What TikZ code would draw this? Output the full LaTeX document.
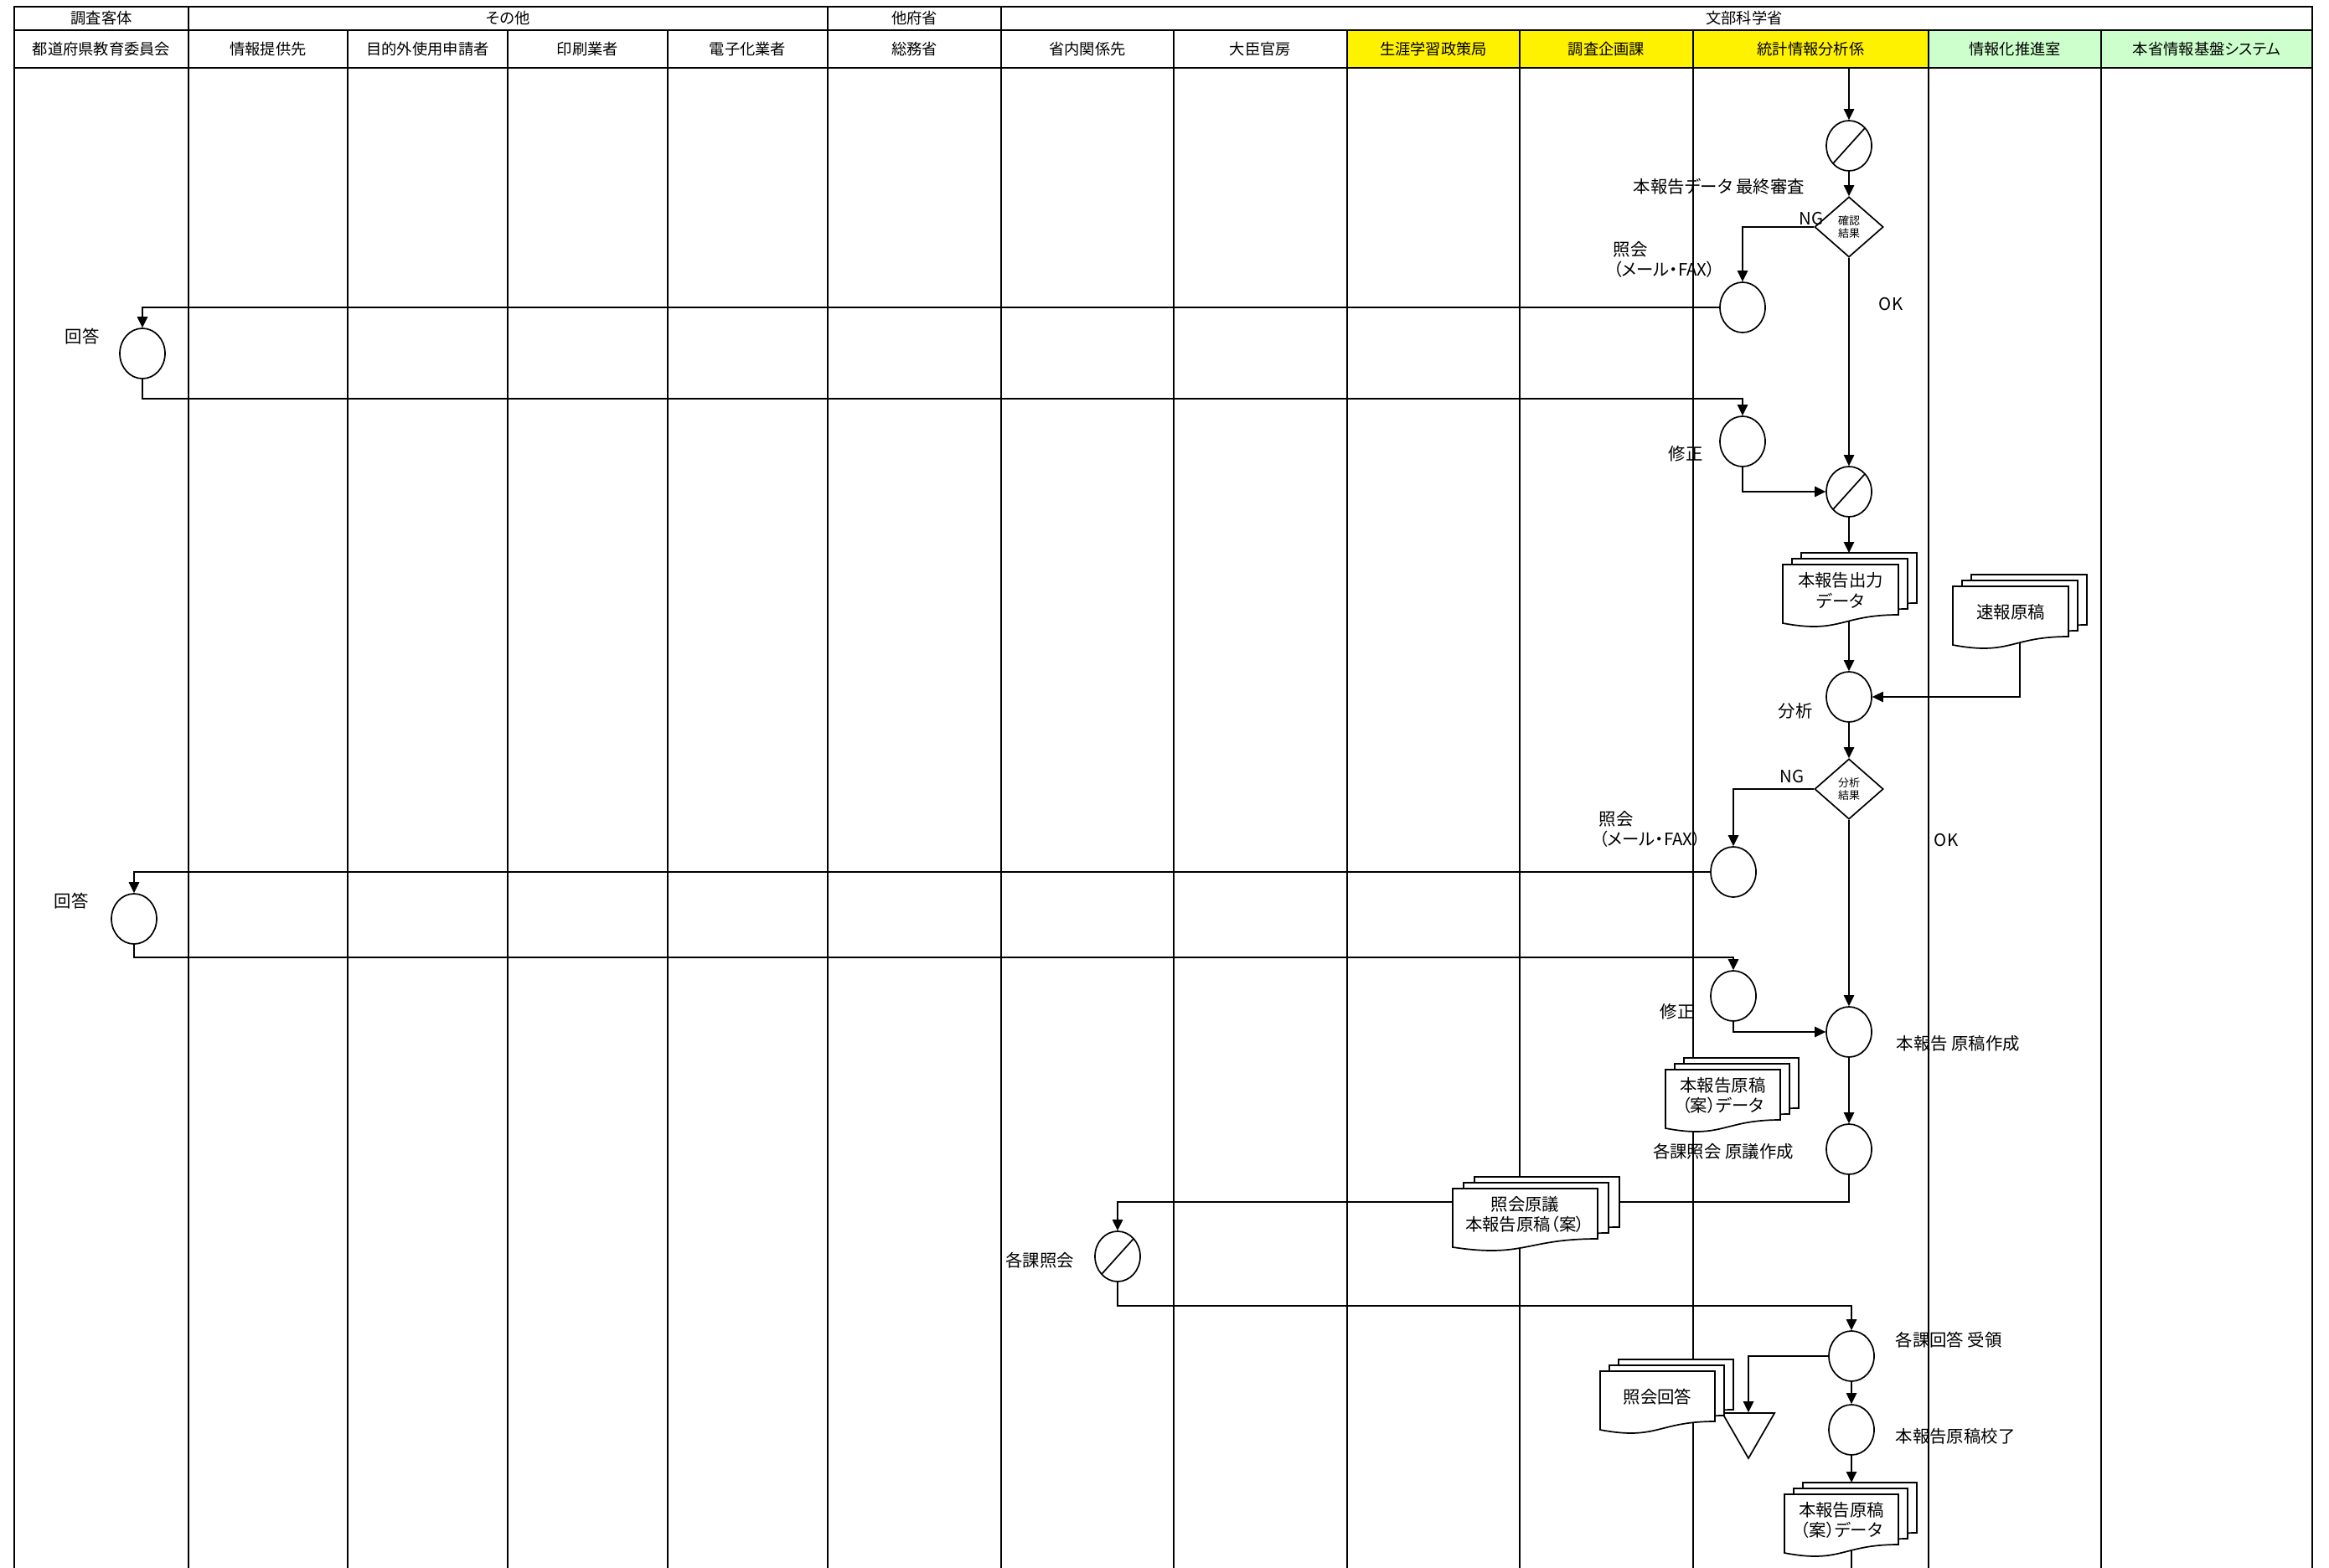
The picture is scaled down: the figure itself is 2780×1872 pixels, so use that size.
\documentclass[tikz,border=0pt]{standalone}
\usepackage{fontspec}
\setmainfont{Noto Sans CJK JP}[RawFeature=+palt]
\usetikzlibrary{arrows.meta, shapes.geometric, backgrounds}

\newcommand\hdrfont{\fontsize{5.2}{6.2}\selectfont}
\newcommand\lblfont{\fontsize{5.8}{6.9}\selectfont}
\newcommand\decfont{\fontsize{3.7}{4.4}\selectfont}

% document symbol, three sheets: name, front x, front y, width, shift, text
\newcommand\docstack[6]{%
  \foreach \k in {2,1,0}{
    \draw[docsheet] ({#2+\k*#5},{#3-\k*7}) -- ++(#4,0) -- ++(0,60)
      .. controls ({#2+\k*#5+0.5*#4},{#3-\k*7+60}) and ({#2+\k*#5+0.5*#4},{#3-\k*7+83})
      .. ({#2+\k*#5},{#3-\k*7+70}) -- cycle;
  }
  \node[doctext] (#1) at ({#2+0.5*#4},{#3+31}) {#6};
  \coordinate (#1-top) at ({#2+0.5*#4},{#3-14});
}

\begin{document}
\begin{tikzpicture}[
  x=0.1mm, y=-0.1mm,
  hcell/.style={draw, line width=0.25mm, inner sep=0pt, font=\hdrfont},
  lane/.style={line width=0.25mm},
  proc/.style={ellipse, draw, line width=0.17mm, fill=white,
               minimum width=5.4mm, minimum height=6mm, inner sep=0pt},
  slashed/.style={proc, path picture={\draw[line width=0.17mm]
               (path picture bounding box.south west) -- (path picture bounding box.north east);}},
  dec/.style={diamond, draw, line width=0.17mm, fill=white, align=center,
              minimum width=8.2mm, minimum height=7.2mm, inner sep=0pt, font=\decfont},
  merge/.style={regular polygon, regular polygon sides=3, shape border rotate=180,
                draw, line width=0.17mm, fill=white, minimum size=7.2mm, inner sep=0pt},
  docsheet/.style={draw, line width=0.17mm, fill=white},
  doctext/.style={align=center, inner sep=0pt, font=\lblfont},
  note/.style={inner sep=0pt, font=\lblfont},
  flow/.style={line width=0.13mm, -{Triangle[length=1.3mm, width=1.25mm]}},
  link/.style={line width=0.13mm},
]
\useasboundingbox (0,0) rectangle (2780,1872);

% ------------------- swim lanes -------------------
\foreach \x in {17,225,415,606,797,988,1195,1401,1608,1814,2021,2302,2508,2760}
  \draw[lane] (\x,81) -- (\x,1872);

% ------------------- header -------------------
\node[hcell, minimum width=20.8mm, minimum height=2.8mm] (grp1) at (121,22) {調査客体};
\node[hcell, minimum width=76.3mm, minimum height=2.8mm] (grp2) at (606.5,22) {その他};
\node[hcell, minimum width=20.7mm, minimum height=2.8mm] (grp3) at (1091.5,22) {他府省};
\node[hcell, minimum width=156.5mm, minimum height=2.8mm] (grp4) at (1977.5,22) {};
\node[font=\hdrfont, inner sep=0pt] (grp4t) at (2082,22) {文部科学省};

\foreach \xl/\xr/\txt/\col [count=\i] in {
    17/225/都道府県教育委員会/white, 225/415/情報提供先/white,
    415/606/目的外使用申請者/white, 606/797/印刷業者/white,
    797/988/電子化業者/white, 988/1195/総務省/white,
    1195/1401/省内関係先/white, 1401/1608/大臣官房/white,
    1608/1814/生涯学習政策局/yellow, 1814/2021/調査企画課/yellow,
    2021/2302/統計情報分析係/yellow, 2302/2508/情報化推進室/green!20,
    2508/2760/本省情報基盤システム/green!20}
  \node[hcell, fill=\col, minimum width={(\xr-\xl)*0.1mm}, minimum height=4.5mm]
    (col\i) at ({(\xl+\xr)/2},58.5) {\txt};

% ------------------- final check -------------------
\node[slashed] (s1) at (2207,174) {};
\node[dec] (d1) at (2207,271) {確認\\結果};
\node[proc] (c1) at (2080,367) {};
\node[proc] (r1) at (170,422) {};
\node[proc] (m1) at (2080,527) {};
\node[slashed] (s2) at (2207,587) {};

\node[note] (lb1) at (2052,223) {本報告データ 最終審査};
\node[note] (ng1) at (2162,261) {NG};
\node[note, align=left, anchor=west] (lq1) at (1925,310) {照会\\（メール・FAX）};
\node[note] (ok1) at (2257,363) {OK};
\node[note] (la1) at (98,402) {回答};
\node[note] (lm1) at (2012,542) {修正};

% ------------------- analysis -------------------
\node[proc] (a1) at (2207,832) {};
\node[dec] (d2) at (2207,942) {分析\\結果};
\node[proc] (c2) at (2069,1041) {};
\node[proc] (r2) at (160,1097) {};
\node[proc] (m2) at (2069,1189) {};
\node[proc] (b1) at (2207,1232) {};

\node[note] (lb2) at (2143,849) {分析};
\node[note] (ng2) at (2139,927) {NG};
\node[note, align=left, anchor=west] (lq2) at (1908,990) {照会\\（メール・FAX）};
\node[note] (ok2) at (2323,1003) {OK};
\node[note] (la2) at (85,1076) {回答};
\node[note] (lm2) at (2002,1208) {修正};
\node[note, anchor=west] (lb3) at (2263,1246) {本報告 原稿作成};

% ------------------- inquiry to divisions -------------------
\node[proc] (c3) at (2207,1372) {};
\node[slashed] (s3) at (1334,1500) {};
\node[proc] (c4) at (2210,1619) {};
\node[proc] (c5) at (2210,1707) {};
\node[merge] (t1) at (2087,1705) {};

\node[note] (lb4) at (2057,1375) {各課照会 原議作成};
\node[note] (lb5) at (1241,1505) {各課照会};
\node[note, anchor=west] (lb6) at (2262,1600) {各課回答 受領};
\node[note, anchor=west] (lb7) at (2262,1715) {本報告原稿校了};

% ------------------- documents -------------------
\docstack{doc1}{2128}{674}{138}{11}{本報告出力\\データ}
\docstack{doc2}{2331}{700}{138}{11}{速報原稿}
\docstack{doc3}{1988}{1277}{137}{11}{本報告原稿\\（案）データ}
\docstack{doc4}{1734}{1419}{173}{13}{照会原議\\本報告原稿（案）}
\docstack{doc5}{1910}{1637}{137}{11}{照会回答}
\docstack{doc6}{2130}{1784}{136}{11}{本報告原稿\\（案）データ}

\coordinate (entry) at (2207,81);
\coordinate (exit) at (2210,1872);

% connectors go behind the sheets
\begin{scope}[on background layer]
  \draw[flow] (entry) -- (s1);
  \draw[flow] (s1) -- (d1);
  \draw[flow] (d1.west) -| (c1);
  \draw[flow] (c1) -| (r1);
  \draw[flow] (r1.south) -- ++(0,23) -| (m1);
  \draw[flow] (m1.south) |- (s2);
  \draw[flow] (d1) -- (s2);
  \draw[flow] (s2) -- (s2 |- doc1-top);
  \draw[flow] (a1 |- doc1) -- (a1);
  \draw[flow] ([xshift=1.1mm]doc2.center) |- (a1);
  \draw[flow] (a1) -- (d2);
  \draw[flow] (d2.west) -| (c2);
  \draw[flow] (c2) -| (r2);
  \draw[flow] (r2.south) -- ++(0,15) -| (m2);
  \draw[flow] (m2.south) |- (b1);
  \draw[flow] (d2) -- (b1);
  \draw[flow] (b1) -- (c3);
  \draw[flow] (c3.south) -- ++(0,32) -| (s3);
  \draw[flow] (s3.south) -- ++(0,28) -| (c4);
  \draw[flow] (c4) -| (t1.north);
  \draw[flow] (c4) -- (c5);
  \draw[flow] (c5) -- (c5 |- doc6-top);
  \draw[link] (exit |- doc6) -- (exit);
\end{scope}

\end{tikzpicture}
\end{document}
